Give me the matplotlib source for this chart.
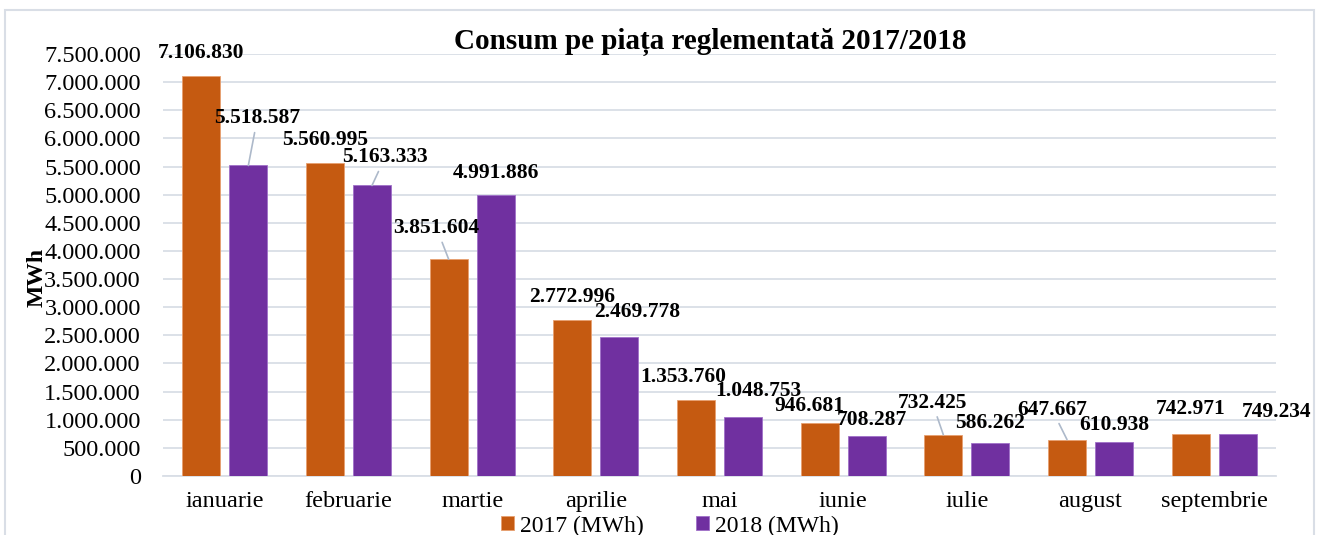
import numpy as np
import matplotlib
matplotlib.use('Agg')
import matplotlib.pyplot as plt
from matplotlib.ticker import FuncFormatter

# Data
months = ['ianuarie', 'februarie', 'martie', 'aprilie', 'mai',
          'iunie', 'iulie', 'august', 'septembrie']
cons_2017 = [7106830, 5560995, 3851604, 2772996, 1353760,
             946681, 732425, 647667, 742971]
cons_2018 = [5518587, 5163333, 4991886, 2469778, 1048753,
             708287, 586262, 610938, 749234]
series_names = ['2017 (MWh)', '2018 (MWh)']

# label offsets in pixels (dx, dy) and whether a leader line is drawn
off_2017 = [(0, 23), (0, 23), (-12, 31), (0, 23), (-13, 23),
            (-10, 17), (-11, 32), (-15, 30), (0, 25)]
lead_2017 = [False, False, True, False, False, False, True, True, False]
off_2018 = [(9, 47), (13, 28), (0, 22), (18, 25), (15, 26),
            (5, 16), (0, 20), (0, 17), (39, 22)]
lead_2018 = [True, True, False, False, False, False, False, False, False]

c17 = '#C55A11'
c18 = '#7030A0'
grid_c = '#D9DEE6'


def fmt(v):
    return '{:,.0f}'.format(v).replace(',', '.')


plt.rcParams['font.family'] = ['Liberation Serif', 'DejaVu Serif']

fig = plt.figure(figsize=(13.19, 5.35), dpi=100)
ax = fig.add_axes([163 / 1319, 59 / 535, 1113 / 1319, 422 / 535])

x = np.arange(len(months))
w = 0.307
d = 0.19
ax.bar(x - d, cons_2017, w, color=c17, edgecolor='#E8A070', linewidth=0.6,
       label=series_names[0], zorder=3)
ax.bar(x + d, cons_2018, w, color=c18, edgecolor='#A070C8', linewidth=0.6,
       label=series_names[1], zorder=3)

ax.set_xlim(-0.5, len(months) - 0.5)
ax.set_ylim(0, 7500000)
ax.set_yticks(np.arange(0, 7500001, 500000))
ax.yaxis.set_major_formatter(FuncFormatter(lambda v, p: fmt(v)))
ax.set_xticks(x)
ax.set_xticklabels(months)
ax.tick_params(axis='y', length=0, pad=16, labelsize=17.5)
ax.tick_params(axis='x', length=0, pad=11, labelsize=17.5)
ax.grid(axis='y', color=grid_c, linewidth=1.3, zorder=0)
for s in ['top', 'right', 'left']:
    ax.spines[s].set_visible(False)
ax.spines['bottom'].set_color(grid_c)
ax.spines['bottom'].set_linewidth(1.3)


def put_labels(vals, xs, offs, leads):
    for v, xx, (dx, dy), ld in zip(vals, xs, offs, leads):
        kw = {}
        if ld:
            kw['arrowprops'] = dict(arrowstyle='-', color='#ADB9CA', lw=1.2,
                                    shrinkA=1, shrinkB=0)
        ax.annotate(fmt(v), xy=(xx, v), xytext=(dx, dy),
                    textcoords='offset pixels', ha='center', va='center',
                    fontsize=15.5, fontweight='bold', zorder=5,
                    annotation_clip=False, **kw)


put_labels(cons_2017, x - d, off_2017, lead_2017)
put_labels(cons_2018, x + d, off_2018, lead_2018)

fig.text(710 / 1319, 1 - 42 / 535, 'Consum pe piața reglementată 2017/2018',
         ha='center', va='center', fontsize=21, fontweight='bold')
fig.text(37 / 1319, 1 - 277 / 535, 'MWh', rotation=90, ha='center', va='center',
         fontsize=17, fontweight='bold')

fig.legend(loc='center', bbox_to_anchor=(670 / 1319, 9 / 535), ncol=2, frameon=False,
           fontsize=17, handlelength=0.55, handleheight=0.55, handletextpad=0.25,
           columnspacing=2.2, borderpad=0)

# outer frame
fig.add_artist(plt.Rectangle((5 / 1319, -0.05), 1309 / 1319, 1 - 10 / 535 + 0.05,
                             transform=fig.transFigure, fill=False,
                             edgecolor=grid_c, linewidth=1.5))

fig.savefig('out.png', dpi=100)
